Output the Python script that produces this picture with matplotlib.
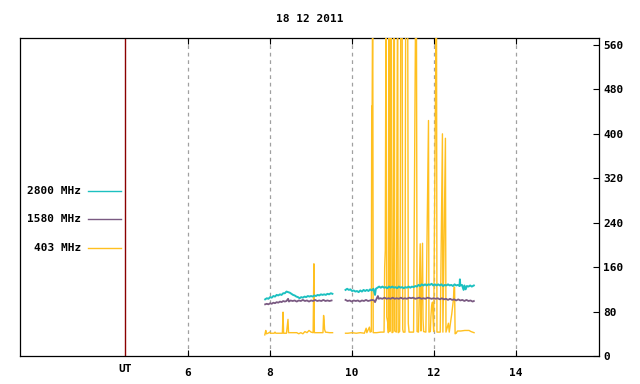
import matplotlib
matplotlib.use("Agg")
import matplotlib.pyplot as plt
from matplotlib.lines import Line2D

# ---------------- data ----------------
title = "18 12 2011"
x_ticks = [6, 8, 10, 12, 14]
x_tick_labels = ["6", "8", "10", "12", "14"]
y_ticks = [0, 80, 160, 240, 320, 400, 480, 560]
ut_hour = 4.47
x_range = (1.91, 16.03)
y_range = (0, 572)
legend_labels = ["2800 MHz", "1580 MHz", "403 MHz"]

# 2800 MHz (two segments)
t2800_a = [7.88, 7.92, 7.96, 8.00, 8.04, 8.08, 8.12, 8.16, 8.20, 8.24, 8.28, 8.32,
           8.36, 8.40, 8.44, 8.48, 8.52, 8.56, 8.60, 8.64, 8.68, 8.72, 8.76, 8.80,
           8.84, 8.88, 8.92, 8.96, 9.00, 9.04, 9.08, 9.12, 9.16, 9.20, 9.24, 9.28,
           9.32, 9.36, 9.40, 9.44, 9.48, 9.52]
v2800_a = [102, 104, 103, 106, 105, 108, 107, 110, 109, 111, 110, 113,
           113, 116, 115, 114, 112, 110, 109, 107, 106, 104, 106, 105,
           107, 106, 108, 107, 108, 107, 109, 108, 110, 109, 111, 110,
           111, 110, 112, 111, 113, 112]
t2800_b = [9.84, 9.88, 9.92, 9.96, 10.00, 10.04, 10.08, 10.12, 10.16, 10.20, 10.24,
           10.28, 10.32, 10.36, 10.40, 10.44, 10.48, 10.52, 10.56, 10.58, 10.62, 10.66,
           10.70, 10.74, 10.78, 10.82, 10.86, 10.90, 10.94, 10.98, 11.02, 11.06, 11.10,
           11.14, 11.18, 11.22, 11.26, 11.30, 11.34, 11.38, 11.42, 11.46, 11.50, 11.54,
           11.58, 11.62, 11.66, 11.70, 11.74, 11.78, 11.82, 11.86, 11.90, 11.94, 11.98,
           12.02, 12.06, 12.10, 12.14, 12.18, 12.22, 12.26, 12.30, 12.34, 12.38, 12.42,
           12.46, 12.50, 12.54, 12.58, 12.62, 12.63, 12.64, 12.68, 12.72, 12.74, 12.77,
           12.80, 12.84, 12.88, 12.92, 12.97]
v2800_b = [119, 121, 119, 120, 117, 118, 116, 117, 115, 118, 116,
           119, 117, 119, 117, 120, 118, 121, 110, 121, 123, 125,
           123, 125, 123, 124, 122, 125, 123, 125, 123, 124, 122,
           125, 123, 124, 122, 124, 123, 125, 123, 125, 124, 126,
           125, 128, 126, 129, 127, 129, 127, 129, 128, 130, 127,
           129, 127, 129, 127, 129, 126, 128, 127, 129, 127, 128,
           126, 129, 127, 128, 126, 138, 127, 128, 119, 127, 120,
           126, 125, 127, 125, 127]

# 1580 MHz (two segments)
t1580_a = [7.88, 7.92, 7.96, 8.00, 8.04, 8.08, 8.12, 8.16, 8.20, 8.24, 8.28, 8.32,
           8.36, 8.40, 8.44, 8.46, 8.50, 8.55, 8.60, 8.65, 8.70, 8.75, 8.80, 8.85,
           8.90, 8.95, 9.00, 9.05, 9.10, 9.15, 9.20, 9.25, 9.30, 9.35, 9.40, 9.45, 9.50]
v1580_a = [93, 94, 93, 95, 94, 96, 95, 97, 96, 98, 97, 99,
           98, 99, 103, 98, 100, 99, 100, 98, 100, 99, 101, 99,
           100, 98, 100, 99, 101, 99, 100, 99, 101, 99, 100, 99, 100]
t1580_b = [9.84, 9.89, 9.94, 9.99, 10.04, 10.09, 10.14, 10.19, 10.24, 10.29, 10.34,
           10.39, 10.44, 10.49, 10.54, 10.56, 10.59, 10.63, 10.65, 10.69, 10.74, 10.79,
           10.84, 10.89, 10.94, 10.99, 11.04, 11.09, 11.14, 11.19, 11.24, 11.29, 11.34,
           11.39, 11.44, 11.49, 11.54, 11.59, 11.64, 11.69, 11.74, 11.79, 11.84, 11.89,
           11.94, 11.99, 12.04, 12.09, 12.14, 12.19, 12.24, 12.29, 12.34, 12.39, 12.44,
           12.49, 12.54, 12.59, 12.64, 12.69, 12.74, 12.79, 12.84, 12.89, 12.94, 12.97]
v1580_b = [101, 99, 100, 98, 100, 99, 100, 98, 100, 99, 101,
           99, 100, 101, 100, 97, 102, 108, 103, 104, 103, 105,
           103, 104, 103, 105, 103, 104, 103, 105, 103, 104, 103,
           105, 104, 105, 103, 104, 105, 103, 104, 103, 105, 104,
           103, 104, 103, 104, 102, 104, 102, 103, 101, 103, 101,
           102, 100, 102, 100, 101, 99, 101, 99, 100, 98, 99]

# 403 MHz (two segments)
t403_a = [7.871, 7.895, 7.91, 7.95, 7.993, 8.01, 8.10, 8.12, 8.14, 8.20, 8.30, 8.316,
          8.33, 8.40, 8.437, 8.45, 8.55, 8.65, 8.70, 8.75, 8.80, 8.85, 8.90, 8.95,
          9.00, 9.05, 9.069, 9.08, 9.15, 9.20, 9.29, 9.305, 9.318, 9.329, 9.35,
          9.45, 9.524]
v403_a = [38, 46, 40, 41, 43, 41, 41, 43, 41, 41, 41, 79,
          41, 41, 66, 42, 42, 42, 40, 42, 40, 44, 42, 46,
          43, 42, 166, 42, 42, 42, 42, 73, 64, 48, 43,
          42, 42]
t403_b = [9.84, 9.90, 10.00, 10.10, 10.20, 10.30, 10.343, 10.36, 10.423, 10.44,
          10.47, 10.479, 10.49, 10.503, 10.515, 10.60, 10.70, 10.78, 10.795, 10.81,
          10.829, 10.845, 10.868, 10.885, 10.905, 10.92, 10.94, 10.955, 10.975, 11.00,
          11.03, 11.04, 11.08, 11.111, 11.125, 11.16, 11.176, 11.19, 11.205, 11.22,
          11.235, 11.25, 11.29, 11.31, 11.325, 11.34, 11.355, 11.371, 11.39, 11.50,
          11.555, 11.568, 11.585, 11.62, 11.662, 11.672, 11.68, 11.718, 11.73, 11.745,
          11.80, 11.864, 11.875, 11.91, 11.922, 11.94, 11.961, 11.975, 11.99, 12.058,
          12.07, 12.15, 12.204, 12.215, 12.277, 12.29, 12.35, 12.37, 12.408, 12.43,
          12.447, 12.471, 12.488, 12.50, 12.513, 12.54, 12.569, 12.65, 12.75, 12.853,
          12.90, 12.975]
v403_b = [41, 41, 42, 41, 42, 41, 50, 42, 52, 43,
          44, 450, 450, 700, 42, 42, 43, 43, 160, 190,
          700, 70, 61, 42, 700, 44, 700, 700, 42, 43,
          700, 45, 43, 700, 42, 44, 229, 700, 700, 700,
          48, 43, 43, 700, 700, 700, 700, 59, 43, 43,
          700, 700, 44, 43, 202, 73, 45, 203, 67, 44,
          43, 424, 43, 44, 70, 90, 97, 67, 44, 700,
          43, 43, 400, 43, 392, 43, 59, 43, 64, 75,
          86, 101, 124, 124, 40, 41, 45, 45, 46, 46,
          44, 42]

# ---------------- style ----------------
c2800 = "#1cc0c0"
c1580 = "#7a5a82"
c403 = "#ffc020"
ut_color = "#8b0000"
font = ["DejaVu Sans Mono"]
fs = 8

fig = plt.figure(figsize=(6.4, 3.84), dpi=100)
ax = fig.add_axes([20.4 / 640, 1 - 356 / 384, (599.3 - 20.4) / 640, (356 - 38.3) / 384])

ax.plot(t403_a, v403_a, color=c403, lw=1.0, zorder=3)
ax.plot(t403_b, v403_b, color=c403, lw=1.0, zorder=3)
ax.plot(t1580_a, v1580_a, color=c1580, lw=1.3, zorder=4)
ax.plot(t1580_b, v1580_b, color=c1580, lw=1.3, zorder=4)
ax.plot(t2800_a, v2800_a, color=c2800, lw=1.4, zorder=5)
ax.plot(t2800_b, v2800_b, color=c2800, lw=1.4, zorder=5)

ax.set_xlim(*x_range)
ax.set_ylim(*y_range)

for xv in x_ticks:
    ax.axvline(xv, color="#a0a0a0", lw=0.9, linestyle=(0, (3, 3)), zorder=1)
ax.axvline(ut_hour, color=ut_color, lw=1.0, zorder=2)

ax.set_xticks(x_ticks)
ax.set_xticklabels(x_tick_labels)
ax.tick_params(axis="x", direction="in", top=True, bottom=True, length=4, width=0.8,
               pad=9, labelsize=fs)
ax.yaxis.tick_right()
ax.set_yticks(y_ticks)
ax.tick_params(axis="y", direction="in", left=False, right=True, length=4, width=0.8,
               pad=3, labelsize=fs)
for lab in ax.get_xticklabels() + ax.get_yticklabels():
    lab.set_family(font)
    lab.set_fontweight("bold")

for s in ax.spines.values():
    s.set_linewidth(0.9)
    s.set_color("black")

ax.text(ut_hour, -0.04, "UT", transform=ax.get_xaxis_transform(), ha="center",
        va="center", fontsize=fs, family=font, fontweight="bold")

fig.text(310 / 640, 1 - 19 / 384, title, ha="center", va="center", fontsize=fs,
         family=font, fontweight="bold")

# legend
leg_y = [191.3, 219.3, 248.3]
leg_c = [c2800, c1580, c403]
for lab, yy, cc in zip(legend_labels, leg_y, leg_c):
    fy = 1 - yy / 384
    fig.text(81 / 640, fy, lab, ha="right", va="center", fontsize=fs, family=font,
             fontweight="bold")
    fig.add_artist(Line2D([88 / 640, 121 / 640], [fy, fy], color=cc, lw=1.0,
                          transform=fig.transFigure))

fig.savefig("out.png", dpi=100)
